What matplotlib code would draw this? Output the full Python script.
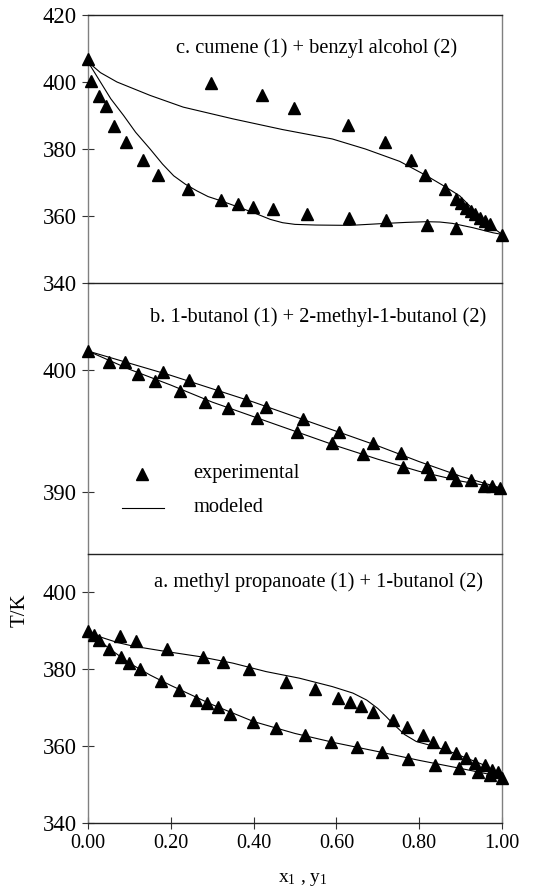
import matplotlib
matplotlib.use("Agg")
import matplotlib.pyplot as plt

plt.rcParams['font.family'] = ['Liberation Serif', 'DejaVu Serif']
plt.rcParams['mathtext.fontset'] = 'custom'
plt.rcParams['mathtext.rm'] = 'Liberation Serif'
plt.rcParams['mathtext.it'] = 'Liberation Serif:italic'

# ---- panel c: cumene (1) + benzyl alcohol (2) ----
c_x_liq = [0.0, 0.007, 0.027, 0.044, 0.064, 0.092, 0.133, 0.17, 0.241, 0.322, 0.363,
           0.398, 0.448, 0.53, 0.63, 0.721, 0.818, 0.888]
c_T_liq = [407.0, 400.2, 395.8, 392.8, 387.0, 382.0, 376.8, 372.2, 368.0, 364.8, 363.5,
           362.8, 362.0, 360.5, 359.5, 358.8, 357.3, 356.4]
c_x_vap = [0.297, 0.42, 0.497, 0.629, 0.717, 0.781, 0.815, 0.862, 0.89, 0.902, 0.914,
           0.924, 0.934, 0.946, 0.958, 0.970, 1.0]
c_T_vap = [399.8, 396.0, 392.2, 387.2, 382.2, 376.7, 372.3, 368.0, 365.0, 363.8, 362.5,
           361.5, 360.5, 359.5, 358.5, 357.5, 354.2]
c_mx_low = [0.0, 0.015, 0.03, 0.055, 0.086, 0.115, 0.15, 0.18, 0.207, 0.235, 0.263, 0.29,
            0.322, 0.36, 0.4, 0.44, 0.47, 0.5, 0.55, 0.633, 0.72, 0.77, 0.818, 0.85,
            0.88, 0.93, 0.978, 1.0]
c_mT_low = [406.0, 403.0, 400.0, 395.0, 390.0, 385.0, 380.0, 375.5, 372.0, 369.5, 367.5,
            365.8, 364.5, 362.8, 361.0, 359.0, 358.0, 357.5, 357.3, 357.2, 357.8, 358.1,
            358.3, 358.2, 357.8, 356.5, 355.0, 354.5]
c_mx_up = [0.0, 0.03, 0.07, 0.15, 0.23, 0.35, 0.47, 0.59, 0.67, 0.753, 0.818, 0.866,
           0.898, 0.93, 0.962, 1.0]
c_mT_up = [406.0, 402.8, 400.0, 396.0, 392.5, 389.0, 385.8, 383.0, 380.0, 376.3, 372.0,
           368.5, 366.0, 362.0, 358.0, 354.5]

# ---- panel b: 1-butanol (1) + 2-methyl-1-butanol (2) ----
b_x = [0.0, 0.051, 0.09, 0.12, 0.161, 0.18, 0.223, 0.244, 0.283, 0.314, 0.339, 0.382,
       0.409, 0.43, 0.506, 0.52, 0.59, 0.607, 0.665, 0.689, 0.757, 0.761, 0.818, 0.827,
       0.88, 0.888, 0.924, 0.956, 0.976, 0.995]
b_T = [401.6, 400.66, 400.74, 399.7, 399.15, 399.9, 398.3, 399.2, 397.4, 398.3, 396.9,
       397.6, 396.1, 397.0, 394.9, 396.0, 394.0, 394.9, 393.1, 394.0, 393.2, 392.05,
       392.1, 391.5, 391.56, 391.0, 391.0, 390.5, 390.5, 390.3]
b_mx = [0.0, 0.1, 0.2, 0.3, 0.4, 0.5, 0.6, 0.7, 0.8, 0.9, 1.0]
b_mT_up = [401.6, 400.6, 399.6, 398.5, 397.4, 396.2, 395.0, 393.8, 392.5, 391.3, 390.3]
b_mT_low = [401.6, 400.1, 398.8, 397.4, 396.2, 395.0, 393.8, 392.7, 391.7, 390.9, 390.3]

# ---- panel a: methyl propanoate (1) + 1-butanol (2) ----
a_x_liq = [0.0, 0.014, 0.027, 0.05, 0.08, 0.1, 0.126, 0.177, 0.219, 0.261, 0.287, 0.313,
           0.343, 0.398, 0.453, 0.523, 0.587, 0.65, 0.711, 0.773, 0.838, 0.896, 0.942,
           0.97, 1.0]
a_T_liq = [390.0, 389.0, 387.5, 385.3, 383.3, 381.6, 380.1, 377.0, 374.7, 372.1, 371.2,
           370.2, 368.4, 366.4, 364.7, 363.0, 361.1, 359.8, 358.4, 356.6, 355.0, 354.3,
           353.3, 352.4, 351.7]
a_x_vap = [0.078, 0.117, 0.19, 0.277, 0.326, 0.39, 0.478, 0.548, 0.605, 0.632, 0.659,
           0.688, 0.736, 0.771, 0.809, 0.834, 0.862, 0.888, 0.912, 0.934, 0.958, 0.977,
           0.99]
a_T_vap = [388.7, 387.3, 385.3, 383.2, 382.0, 380.0, 376.8, 374.8, 372.5, 371.5, 370.5,
           368.9, 366.9, 365.0, 362.8, 361.1, 359.9, 358.2, 356.9, 355.6, 355.0, 353.9,
           353.3]
a_mx_low = [0.0, 0.05, 0.1, 0.15, 0.2, 0.3, 0.4, 0.5, 0.6, 0.7, 0.8, 0.9, 1.0]
a_mT_low = [390.0, 385.5, 381.6, 378.5, 375.8, 370.8, 366.4, 363.3, 360.8, 358.6, 356.3,
            354.2, 352.0]
a_mx_up = [0.0, 0.03, 0.07, 0.11, 0.19, 0.27, 0.35, 0.43, 0.51, 0.59, 0.64, 0.673, 0.7,
           0.72, 0.74, 0.765, 0.793, 0.834, 0.874, 0.914, 0.954, 1.0]
a_mT_up = [390.0, 388.4, 387.0, 386.0, 384.6, 383.3, 381.6, 379.4, 377.7, 375.5, 373.8,
           372.0, 369.8, 367.7, 365.5, 363.0, 361.2, 360.0, 358.6, 356.9, 355.2, 351.7]

x_ticks = [0.0, 0.2, 0.4, 0.6, 0.8, 1.0]
x_ticklabels = ['0.00', '0.20', '0.40', '0.60', '0.80', '1.00']

W, H = 546, 893
fig = plt.figure(figsize=(W / 100, H / 100), dpi=100)

left = 88 / W
width = (502 - 88) / W
def fy(p):
    return 1 - p / H

ax_c = fig.add_axes([left, fy(283), width, fy(15) - fy(283)])
ax_b = fig.add_axes([left, fy(554), width, fy(283) - fy(554)])
ax_a = fig.add_axes([left, fy(823), width, fy(554) - fy(823)])
ax_c.set_zorder(3)
ax_b.set_zorder(2)
ax_a.set_zorder(1)

mk = dict(marker='^', ls='none', color='black', ms=9, clip_on=False, zorder=3)
ln = dict(color='black', lw=0.8, zorder=2)
txt = dict(ha='center', va='center', fontsize=14.7)

# panel c
ax_c.plot(c_mx_low, c_mT_low, **ln)
ax_c.plot(c_mx_up, c_mT_up, **ln)
ax_c.plot(c_x_liq, c_T_liq, **mk)
ax_c.plot(c_x_vap, c_T_vap, **mk)
ax_c.set_ylim(340, 420)
ax_c.set_yticks([340, 360, 380, 400, 420])
ax_c.text(0.552, 410.2, 'c. cumene (1) + benzyl alcohol (2)', **txt)

# panel b
ax_b.plot(b_mx, b_mT_up, **ln)
ax_b.plot(b_mx, b_mT_low, **ln)
ax_b.plot(b_x, b_T, **mk)
ax_b.set_ylim(384.9, 407.2)
ax_b.set_yticks([390, 400])
ax_b.text(0.557, 404.4, 'b. 1-butanol (1) + 2-methyl-1-butanol (2)', **txt)
# legend
ax_b.plot([0.13], [391.5], **mk)
ax_b.text(0.254, 391.5, 'experimental', ha='left', va='center', fontsize=14.7)
ax_b.plot([0.083, 0.184], [388.7, 388.7], **ln)
ax_b.text(0.254, 388.7, 'modeled', ha='left', va='center', fontsize=14.7)

# panel a
ax_a.plot(a_mx_low, a_mT_low, **ln)
ax_a.plot(a_mx_up, a_mT_up, **ln)
ax_a.plot(a_x_liq, a_T_liq, **mk)
ax_a.plot(a_x_vap, a_T_vap, **mk)
ax_a.set_ylim(340, 410)
ax_a.set_yticks([340, 360, 380, 400])
ax_a.text(0.556, 402.6, 'a. methyl propanoate (1) + 1-butanol (2)', **txt)

for ax in (ax_c, ax_b, ax_a):
    ax.set_facecolor('none')
    ax.set_xlim(0, 1)
    ax.set_xticks(x_ticks)
    for s in ('left', 'right'):
        ax.spines[s].set_color('#808080')
        ax.spines[s].set_linewidth(1.0)
    for s in ('top', 'bottom'):
        ax.spines[s].set_color('#222222')
        ax.spines[s].set_linewidth(1.0)
    ax.tick_params(axis='y', direction='inout', length=8, width=0.8, color='#333333',
                   labelsize=16.3, pad=4)
    ax.tick_params(axis='x', direction='inout', length=8, width=0.8, color='#333333',
                   labelsize=14.5, pad=4)

ax_b.spines['top'].set_visible(False)
ax_a.spines['top'].set_visible(False)
ax_c.tick_params(axis='x', bottom=False, labelbottom=False)
ax_b.tick_params(axis='x', bottom=False, labelbottom=False)
ax_a.set_xticklabels(x_ticklabels)

fig.text(20 / W, fy(610), 'T/K', rotation=90, ha='center', va='center', fontsize=15)
fig.text(303 / W, fy(880), r'x$_1$ , y$_1$', ha='center', va='center', fontsize=14)

fig.savefig('out.png', dpi=100)
